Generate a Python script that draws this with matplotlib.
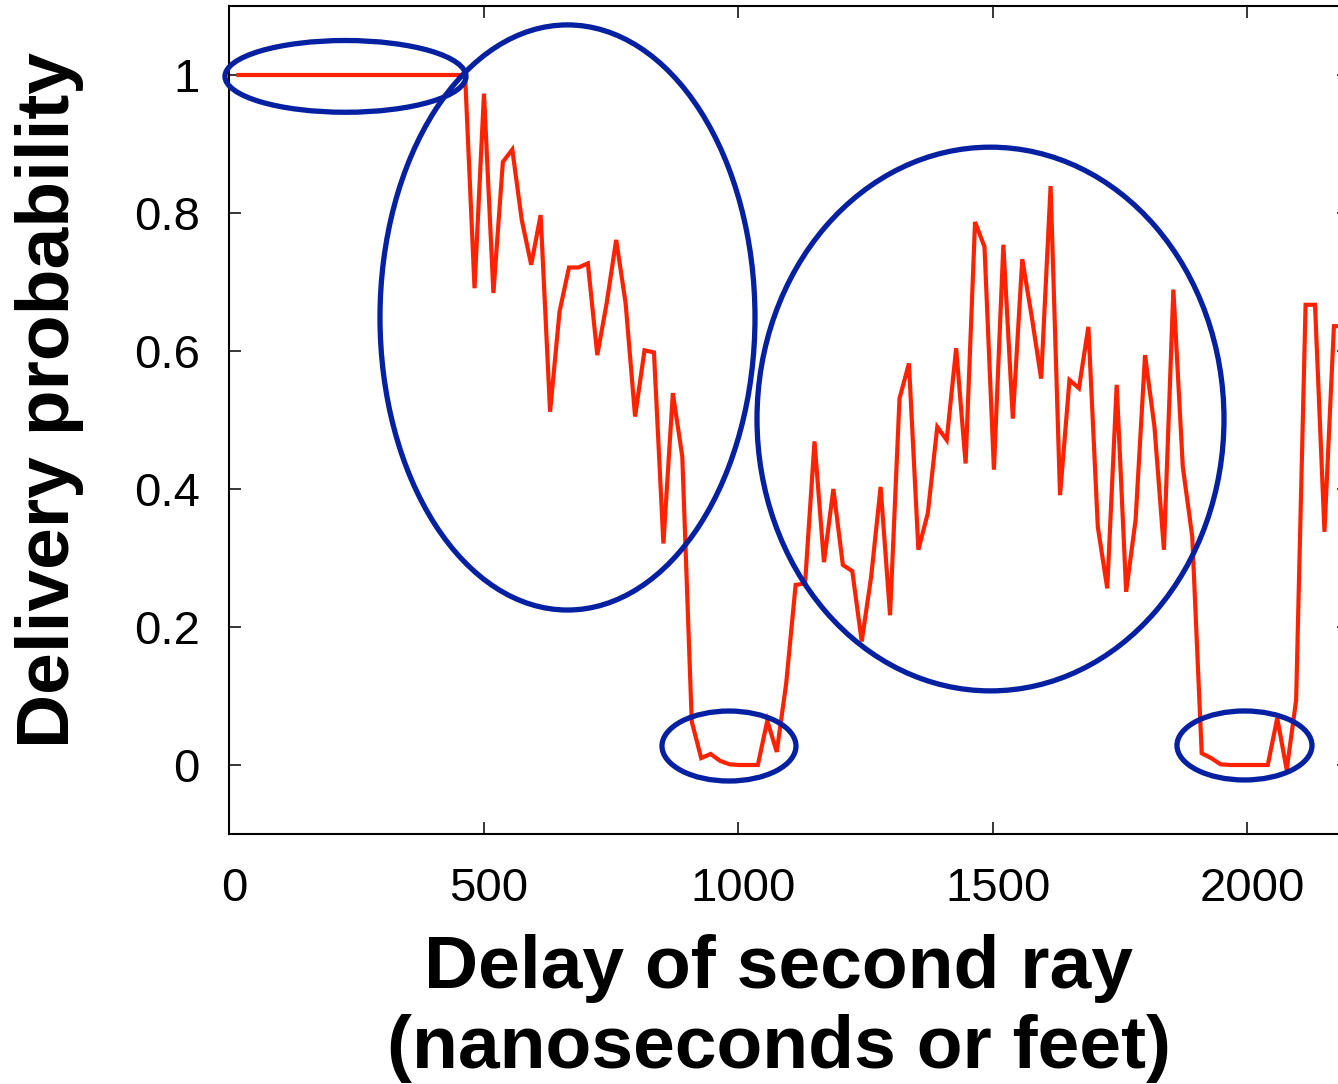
import matplotlib
matplotlib.use("Agg")
import matplotlib.pyplot as plt
from matplotlib.patches import Ellipse
from matplotlib.transforms import ScaledTranslation
from matplotlib import font_manager
import numpy as np

# ---------------- data ----------------
# delivery probability, one value per sampled delay (evenly spaced)
prob_plateau = [1.0, 1.0, 1.0, 1.0, 1.0, 1.0, 1.0, 1.0, 1.0, 1.0,
                1.0, 1.0, 1.0, 1.0, 1.0, 1.0, 1.0, 1.0, 1.0, 1.0,
                1.0, 1.0, 1.0, 1.0, 1.0]
prob_decay = [0.691, 0.973, 0.684, 0.874, 0.892, 0.790, 0.725, 0.797, 0.512,
              0.657, 0.721, 0.721, 0.727, 0.594, 0.670, 0.761, 0.669, 0.505,
              0.601, 0.598, 0.321, 0.539, 0.447]
prob_null1 = [0.063, 0.010, 0.016, 0.006, 0.001, 0.0, 0.0, 0.0, 0.064, 0.019]
prob_middle = [0.118, 0.261, 0.263, 0.469, 0.294, 0.400, 0.290, 0.281, 0.179,
               0.273, 0.403, 0.217, 0.531, 0.582, 0.312, 0.365, 0.490, 0.471,
               0.604, 0.437, 0.787, 0.751, 0.428, 0.754, 0.502, 0.733, 0.650,
               0.560, 0.839, 0.391, 0.558, 0.546, 0.635, 0.345, 0.256, 0.551,
               0.251, 0.355, 0.594, 0.490, 0.312, 0.689, 0.432, 0.331]
prob_null2 = [0.017, 0.010, 0.001, 0.0, 0.0, 0.0, 0.0, 0.0, 0.068, -0.007, 0.094]
prob_tail = [0.667, 0.667, 0.338, 0.636, 0.636]

DELAY_STEP_NS = 18.55   # spacing of the sampled delays

# highlighted regions (data coordinates)
ellipse_cx = [228.8, 664.9, 1495.8, 982.1, 1994.7]
ellipse_cy = [0.998, 0.6486, 0.5014, 0.0275, 0.0283]
ellipse_w = [473.4, 736.6, 917.3, 263.2, 265.2]
ellipse_h = [0.104, 0.848, 0.788, 0.1014, 0.100]

x_ticks = [0, 500, 1000, 1500, 2000]
y_ticks = [0, 0.2, 0.4, 0.6, 0.8, 1]
y_tick_labels = ["0", "0.2", "0.4", "0.6", "0.8", "1"]

x_label_1 = "Delay of second ray"
x_label_2 = "(nanoseconds or feet)"
y_label = "Delivery probability"

# ---------------- figure ----------------
W, H, DPI = 1338, 1084, 100
fig = plt.figure(figsize=(W / DPI, H / DPI), dpi=DPI)
fig.patch.set_facecolor("white")

available = {f.name for f in font_manager.fontManager.ttflist}
tick_font = "Liberation Sans" if "Liberation Sans" in available else "DejaVu Sans"

ax_left, ax_right, ax_top, ax_bottom = 229, 1349, 6, 834
ax = fig.add_axes([ax_left / W, (H - ax_bottom) / H,
                   (ax_right - ax_left) / W, (ax_bottom - ax_top) / H])

prob = np.array(prob_plateau + prob_decay + prob_null1 + prob_middle +
                prob_null2 + prob_tail)
delay = DELAY_STEP_NS * np.arange(1, len(prob) + 1)

ax.plot(delay, prob, color="#ff2200", lw=3.0, solid_joinstyle="miter", zorder=2)

for cx, cy, w, h in zip(ellipse_cx, ellipse_cy, ellipse_w, ellipse_h):
    ax.add_patch(Ellipse((cx, cy), w, h, fill=False, edgecolor="#0520a0",
                         lw=3.8, zorder=3, clip_on=False))

ax.set_xlim(0, 2200)
ax.set_ylim(-0.1, 1.1)
ax.set_xticks(x_ticks)
ax.set_yticks(y_ticks)
ax.set_yticklabels(y_tick_labels)

for s in ax.spines.values():
    s.set_linewidth(1.5)
    s.set_color("black")
ax.tick_params(axis="both", direction="in", length=8.6, width=1.1,
               top=True, right=True, labelsize=34, colors="black")
ax.tick_params(axis="x", pad=24)
ax.tick_params(axis="y", pad=21)
shift = ScaledTranslation(5 / DPI, 0, fig.dpi_scale_trans)
for lab in ax.get_xticklabels():
    lab.set_fontfamily(tick_font)
    lab.set_transform(lab.get_transform() + shift)
for lab in ax.get_yticklabels():
    lab.set_fontfamily(tick_font)

# axis labels
fig.text(779 / W, 1 - 988 / H, x_label_1, ha="center", va="baseline",
         fontsize=54, fontweight="bold", family=tick_font)
fig.text(779 / W, 1 - 1068 / H, x_label_2, ha="center", va="baseline",
         fontsize=54, fontweight="bold", family=tick_font)

fig.text(50 / W, 1 - 400 / H, y_label, rotation=90, ha="center", va="center",
         fontsize=54, fontweight="bold", family=tick_font)

fig.savefig("out.png", dpi=DPI, facecolor="white")
